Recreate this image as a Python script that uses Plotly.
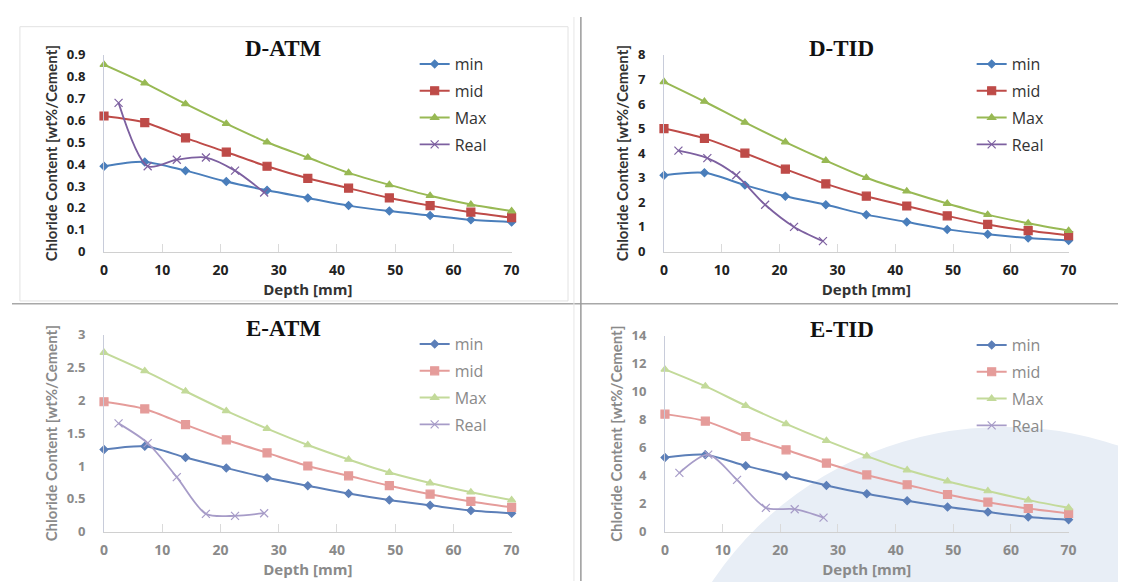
import plotly.graph_objects as go

depth = [0, 7, 14, 21, 28, 35, 42, 49, 56, 63, 70]
real_depth = [2.5, 7.5, 12.5, 17.5, 22.5, 27.5]

datm_min = [0.39, 0.41, 0.37, 0.32, 0.28, 0.245, 0.21, 0.185, 0.165, 0.145, 0.135]
datm_mid = [0.62, 0.59, 0.52, 0.455, 0.39, 0.335, 0.29, 0.245, 0.21, 0.18, 0.155]
datm_max = [0.855, 0.77, 0.675, 0.585, 0.50, 0.43, 0.36, 0.305, 0.255, 0.215, 0.185]
datm_real = [0.68, 0.39, 0.42, 0.43, 0.37, 0.27]

dtid_min = [3.1, 3.2, 2.7, 2.25, 1.9, 1.5, 1.2, 0.9, 0.7, 0.55, 0.45]
dtid_mid = [5.0, 4.6, 4.0, 3.35, 2.75, 2.25, 1.85, 1.45, 1.1, 0.85, 0.65]
dtid_max = [6.9, 6.1, 5.25, 4.45, 3.7, 3.0, 2.45, 1.95, 1.5, 1.15, 0.85]
dtid_real = [4.1, 3.8, 3.1, 1.9, 1.0, 0.42]

eatm_min = [1.25, 1.3, 1.13, 0.97, 0.82, 0.70, 0.58, 0.48, 0.40, 0.32, 0.28]
eatm_mid = [1.98, 1.87, 1.63, 1.40, 1.20, 1.00, 0.85, 0.70, 0.57, 0.46, 0.37]
eatm_max = [2.73, 2.45, 2.14, 1.84, 1.57, 1.32, 1.10, 0.90, 0.74, 0.60, 0.48]
eatm_real = [1.65, 1.35, 0.83, 0.27, 0.24, 0.28]

etid_min = [5.3, 5.5, 4.7, 4.0, 3.3, 2.7, 2.2, 1.75, 1.4, 1.05, 0.85]
etid_mid = [8.4, 7.9, 6.8, 5.85, 4.9, 4.05, 3.35, 2.65, 2.1, 1.65, 1.3]
etid_max = [11.6, 10.4, 9.0, 7.7, 6.5, 5.4, 4.4, 3.6, 2.9, 2.25, 1.7]
etid_real = [4.2, 5.5, 3.7, 1.7, 1.6, 1.0]

series_names = ["min", "mid", "Max", "Real"]
panel_titles = ["D-ATM", "D-TID", "E-ATM", "E-TID"]
y_ranges = [[0, 0.9], [0, 8], [0, 3], [0, 14]]
y_ticks = [[0, 0.1, 0.2, 0.3, 0.4, 0.5, 0.6, 0.7, 0.8, 0.9],
           [0, 1, 2, 3, 4, 5, 6, 7, 8],
           [0, 0.5, 1, 1.5, 2, 2.5, 3],
           [0, 2, 4, 6, 8, 10, 12, 14]]
y_ticktext = [["0", "0.1", "0.2", "0.3", "0.4", "0.5", "0.6", "0.7", "0.8", "0.9"],
              ["0", "1", "2", "3", "4", "5", "6", "7", "8"],
              ["0", "0.5", "1", "1.5", "2", "2.5", "3"],
              ["0", "2", "4", "6", "8", "10", "12", "14"]]
x_ticks = [0, 10, 20, 30, 40, 50, 60, 70]
panels = [
    (datm_min, datm_mid, datm_max, datm_real),
    (dtid_min, dtid_mid, dtid_max, dtid_real),
    (eatm_min, eatm_mid, eatm_max, eatm_real),
    (etid_min, etid_mid, etid_max, etid_real),
]

W, H = 1126, 582
# plot-area pixel boxes: (x0, x1, ybottom, ytop)
boxes = [(93, 505, 242, 39), (659, 1068, 242, 39), (93, 505, 531, 328), (660, 1068, 531, 329)]

dark_colors = ["#4A7EBB", "#BE4B48", "#98B954", "#7D60A0"]
faded_colors = ["#5C7FB8", "#E59C9A", "#C3DA9A", "#A79CC8"]
symbols = ["diamond", "square", "triangle-up", "x-thin-open"]
msizes = [6, 8, 7, 8]

fig = go.Figure()

for i, vals in enumerate(panels):
    xa = "x" if i == 0 else f"x{i+1}"
    ya = "y" if i == 0 else f"y{i+1}"
    lg = "legend" if i == 0 else f"legend{i+1}"
    cols = dark_colors if i < 2 else faded_colors
    for j, (name, v) in enumerate(zip(series_names, vals)):
        xs = real_depth if name == "Real" else depth
        fig.add_trace(go.Scatter(
            x=xs, y=v, name=name, mode="lines+markers",
            line=dict(color=cols[j], width=2 if name != "Real" else 1.8, shape="spline", smoothing=0.8),
            marker=dict(symbol=symbols[j], size=msizes[j], color=cols[j],
                        line=dict(color=cols[j], width=1.2)),
            xaxis=xa, yaxis=ya, legend=lg, legendgroup=f"{i}-{name}",
            cliponaxis=False,
        ))

layout = dict(
    width=W, height=H, paper_bgcolor="white", plot_bgcolor="rgba(0,0,0,0)",
    margin=dict(l=0, r=0, t=0, b=0), showlegend=True,
    font=dict(family="Open Sans, sans-serif"),
)

annotations = []
for i in range(4):
    x0, x1, yb, yt = boxes[i]
    sfx = "" if i == 0 else str(i + 1)
    text_col = "#333333" if i < 2 else "#8A8A8A"
    tick_col = "#222222" if i < 2 else "#8A8A8A"
    layout[f"xaxis{sfx}"] = dict(
        domain=[x0 / W, x1 / W], anchor=f"y{sfx}", range=[0, 70],
        tickvals=x_ticks,
        ticks="inside", ticklen=8, tickcolor="#DADADA", ticklabelstandoff=6,
        showline=True, linecolor="#D0D0D0", linewidth=1,
        showgrid=False, zeroline=False,
        tickfont=dict(size=14, color=tick_col, family="Open Sans", weight="bold"),
        title=dict(text="Depth [mm]", font=dict(size=15, color=text_col, family="Open Sans", weight="bold"),
                   standoff=3),
    )
    layout[f"yaxis{sfx}"] = dict(
        domain=[1 - yb / H, 1 - yt / H], anchor=f"x{sfx}", range=y_ranges[i],
        tickvals=y_ticks[i], ticktext=y_ticktext[i],
        ticks="", ticklabelstandoff=15,
        showline=True, linecolor="#C8CCDA", linewidth=1,
        showgrid=False, zeroline=False,
        tickfont=dict(size=13, color=tick_col, family="Open Sans", weight="bold"),
        title=dict(text="Chloride Content [wt%/Cement]",
                   font=dict(size=15, color=text_col, family="Lato", weight="bold"),
                   standoff=5),
    )
    lg = "legend" if i == 0 else f"legend{i+1}"
    layout[lg] = dict(
        x=(x1 - 98) / W, y=1 - (yt - 8) / H, xanchor="left", yanchor="top",
        bgcolor="rgba(0,0,0,0)", font=dict(size=16, color=text_col, family="Open Sans"),
        tracegroupgap=3, itemwidth=30,
    )
    cx = (x0 + x1) / 2 - 25
    annotations.append(dict(
        text=f"<b>{panel_titles[i]}</b>", xref="paper", yref="paper",
        x=cx / W, y=1 - (yt - 7) / H, xanchor="center", yanchor="middle",
        showarrow=False, font=dict(size=23, color="#111111", family="Liberation Serif"),
    ))

layout["annotations"] = annotations
layout["shapes"] = [
    dict(type="circle", xref="paper", yref="paper",
         x0=650 / W, x1=1356 / W, y0=1 - 1129 / H, y1=1 - 423 / H,
         fillcolor="#E8EEF6", line=dict(width=0), layer="below"),
    dict(type="rect", xref="paper", yref="paper", x0=8 / W, x1=562 / W, y0=1 - 293 / H, y1=1 - 10 / H,
         line=dict(color="#E2E2E2", width=1)),
    dict(type="line", xref="paper", yref="paper", x0=0, x1=1, y0=1 - 296 / H, y1=1 - 296 / H,
         line=dict(color="#A8A8A8", width=1.5)),
    dict(type="line", xref="paper", yref="paper", x0=575 / W, x1=575 / W, y0=0, y1=1,
         line=dict(color="#9A9A9A", width=1.5)),
    dict(type="line", xref="paper", yref="paper", x0=568 / W, x1=568 / W, y0=0, y1=1,
         line=dict(color="#E6E6E6", width=1)),
]
fig.update_layout(**layout)

fig.write_html("out.html")
